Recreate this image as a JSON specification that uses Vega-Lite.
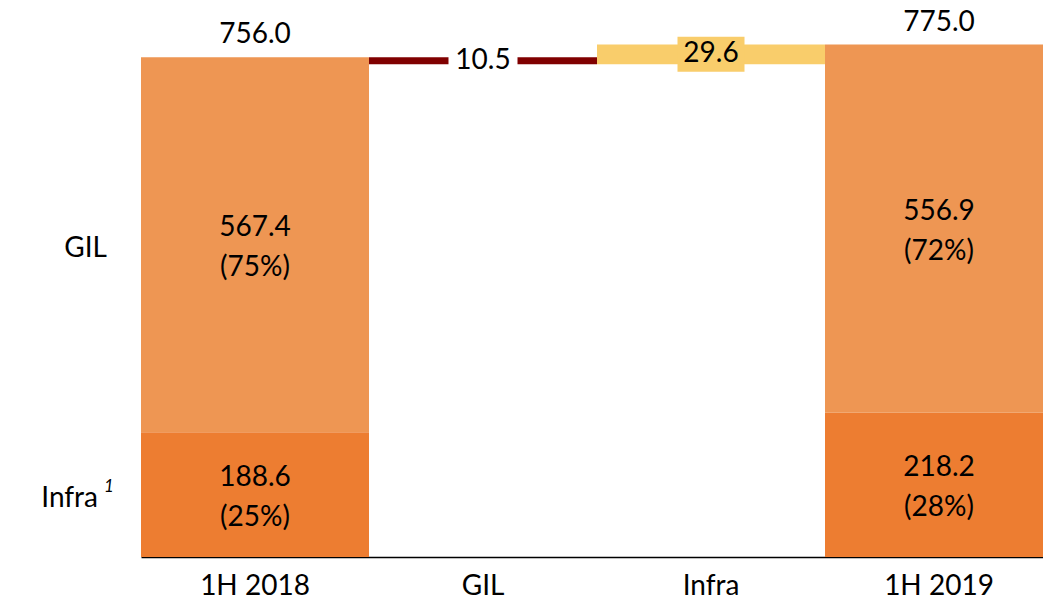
{
  "$schema": "https://vega.github.io/schema/vega-lite/v6.json",
  "width": 902,
  "height": 557,
  "autosize": {"type": "none"},
  "padding": {"left": 141, "top": 0, "right": 0, "bottom": 44},
  "background": "white",
  "config": {"view": {"stroke": null}, "font": "Lato", "text": {"font": "Lato"}},
  "data": {
    "values": [
      {"cat": "1H 2018", "seg": "Infra", "start": 0, "end": 188.6, "label": "188.6\n(25%)", "name": "Infra"},
      {"cat": "1H 2018", "seg": "GIL", "start": 188.6, "end": 756, "label": "567.4\n(75%)", "total": "756.0", "name": "GIL"},
      {"cat": "GIL", "seg": "GILchg", "start": 745.5, "end": 756, "label": "10.5"},
      {"cat": "Infra", "seg": "Infrachg", "start": 745.5, "end": 775.1, "label": "29.6"},
      {"cat": "1H 2019", "seg": "Infra", "start": 0, "end": 218.2, "label": "218.2\n(28%)"},
      {"cat": "1H 2019", "seg": "GIL", "start": 218.2, "end": 775.1, "label": "556.9\n(72%)", "total": "775.0"}
    ]
  },
  "transform": [{"calculate": "(datum.start + datum.end) / 2", "as": "mid"}],
  "encoding": {
    "x": {
      "field": "cat",
      "type": "nominal",
      "sort": ["1H 2018", "GIL", "Infra", "1H 2019"],
      "scale": {"paddingInner": 0, "paddingOuter": 0, "range": [0, 912]},
      "axis": {
        "title": null,
        "labelAngle": 0,
        "ticks": false,
        "domainColor": "black",
        "domainWidth": 1.5,
        "labelFontSize": 28,
        "labelFont": "Lato",
        "labelColor": "black",
        "labelPadding": 15
      }
    }
  },
  "layer": [
    {
      "mark": {"type": "bar"},
      "encoding": {
        "y": {"field": "start", "type": "quantitative", "scale": {"domain": [0, 842.5], "nice": false, "zero": true}, "axis": null},
        "y2": {"field": "end"},
        "color": {
          "field": "seg",
          "type": "nominal",
          "scale": {"domain": ["Infra", "GIL", "GILchg", "Infrachg"], "range": ["#ED7D31", "#EE9653", "#800000", "#F9CD6B"]},
          "legend": null
        }
      }
    },
    {
      "transform": [{"filter": "datum.seg == 'GILchg'"}],
      "mark": {"type": "tick", "color": "white", "size": 69, "thickness": 14, "opacity": 1},
      "encoding": {"y": {"field": "mid", "type": "quantitative"}}
    },
    {
      "transform": [{"filter": "datum.seg == 'Infrachg'"}],
      "mark": {"type": "tick", "color": "#F9CD6B", "size": 67, "thickness": 35, "opacity": 1},
      "encoding": {"y": {"field": "mid", "type": "quantitative"}}
    },
    {
      "transform": [{"filter": "datum.seg == 'GILchg' || datum.seg == 'Infrachg'"}],
      "mark": {"type": "text", "fontSize": 28, "baseline": "middle", "align": "center", "color": "black"},
      "encoding": {
        "y": {"field": "mid", "type": "quantitative"},
        "text": {"field": "label"}
      }
    },
    {
      "transform": [{"filter": "datum.seg == 'GIL' || datum.seg == 'Infra'"}],
      "mark": {"type": "text", "fontSize": 28, "baseline": "middle", "align": "center", "lineBreak": "\n", "lineHeight": 40, "dy": -17, "color": "black"},
      "encoding": {
        "y": {"field": "mid", "type": "quantitative"},
        "text": {"field": "label"}
      }
    },
    {
      "transform": [{"filter": "isValid(datum.total)"}],
      "mark": {"type": "text", "fontSize": 28, "baseline": "alphabetic", "align": "center", "dy": -14, "color": "black"},
      "encoding": {
        "y": {"field": "end", "type": "quantitative"},
        "text": {"field": "total"}
      }
    },
    {
      "transform": [{"filter": "datum.cat == '1H 2018' && datum.seg == 'GIL'"}],
      "mark": {"type": "text", "fontSize": 28, "baseline": "middle", "align": "right", "dx": -34, "dy": 4, "color": "black"},
      "encoding": {
        "x": {"field": "cat", "type": "nominal", "bandPosition": 0},
        "y": {"field": "mid", "type": "quantitative"},
        "text": {"field": "name"}
      }
    },
    {
      "transform": [{"filter": "datum.cat == '1H 2018' && datum.seg == 'Infra'"}],
      "mark": {"type": "text", "fontSize": 28, "baseline": "middle", "align": "right", "dx": -43, "dy": 4, "color": "black"},
      "encoding": {
        "x": {"field": "cat", "type": "nominal", "bandPosition": 0},
        "y": {"field": "mid", "type": "quantitative"},
        "text": {"field": "name"}
      }
    },
    {
      "transform": [{"filter": "datum.cat == '1H 2018' && datum.seg == 'Infra'"}],
      "mark": {"type": "text", "fontSize": 17, "fontStyle": "italic", "baseline": "middle", "align": "left", "dx": -37, "dy": -8, "color": "black"},
      "encoding": {
        "x": {"field": "cat", "type": "nominal", "bandPosition": 0},
        "y": {"field": "mid", "type": "quantitative"},
        "text": {"value": "1"}
      }
    }
  ]
}
